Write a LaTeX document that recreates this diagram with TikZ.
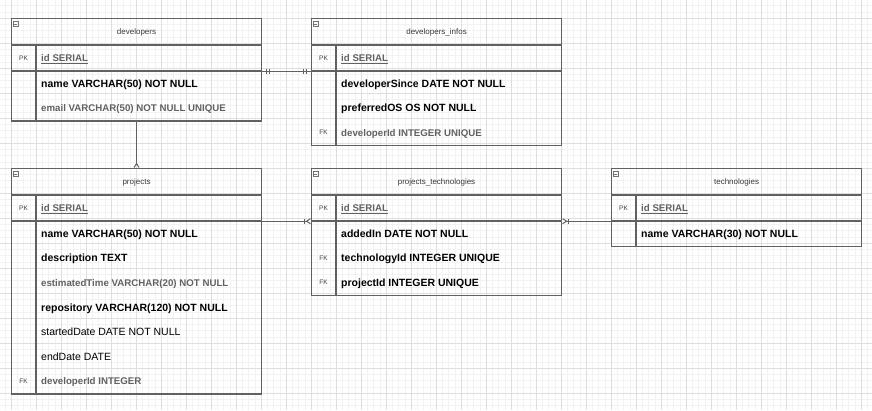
\documentclass[tikz,border=0pt]{standalone}
\usepackage{fontspec}
\setmainfont{Liberation Sans}
\usetikzlibrary{positioning,arrows.meta}

\begin{document}
\begin{tikzpicture}[x=1pt, y=-1pt,
    gridminor/.style={draw=black!5, line width=0.4pt},
    gridmajor/.style={draw=black!13, line width=0.6pt},
    tablehead/.style={draw=black!62, line width=1.1pt, minimum width=250pt, minimum height=26pt,
        inner sep=0pt, anchor=north west, font=\fontsize{8}{9}\selectfont, text=black!78,
        text height=7.2pt, text depth=1.5pt},
    pkrow/.style={draw=black!62, line width=1.1pt, minimum width=250pt, minimum height=25pt,
        inner sep=0pt, anchor=north west},
    tablebody/.style={draw=black!62, line width=1.1pt, minimum width=250pt, inner sep=0pt,
        anchor=north west},
    colline/.style={draw=black!62, line width=1.1pt},
    minbox/.style={draw=black!55, line width=0.5pt, minimum size=5pt, inner sep=0pt,
        path picture={\draw[black!55, line width=0.5pt] ([xshift=1pt]path picture bounding box.west)
            -- ([xshift=-1pt]path picture bounding box.east);}},
    keylbl/.style={font=\fontsize{6.5}{7}\selectfont, text=black!75, inner sep=0pt, anchor=center},
    field/.style={anchor=west, inner sep=0pt, text height=9.5pt, text depth=2pt},
    fbold/.style={field, font=\fontsize{10.5}{12}\selectfont\bfseries, text=black},
    fplain/.style={field, font=\fontsize{10.5}{12}\selectfont, text=black},
    fgray/.style={field, font=\fontsize{9.7}{11}\selectfont\bfseries, text=black!62},
    link/.style={draw=black!62, line width=1pt},
]

\useasboundingbox (0,0) rectangle (872,410);
\fill[white] (0,0) rectangle (872,410);

% Raster im Hintergrund
\foreach \k in {-1,...,137} {
    \draw[gridminor] ({11+6.25*\k},0) -- ({11+6.25*\k},410);
}
\foreach \k in {-2,...,62} {
    \draw[gridminor] (0,{18+6.25*\k}) -- (872,{18+6.25*\k});
}
\foreach \k in {0,...,34} {
    \draw[gridmajor] ({11+25*\k},0) -- ({11+25*\k},410);
}
\foreach \k in {0,...,15} {
    \draw[gridmajor] (0,{18+25*\k}) -- (872,{18+25*\k});
}

% Tabelle developers
\node[tablehead] (devhead) at (11,18) {developers};
\node[minbox] (devmin) at ([xshift=4.7pt, yshift=-6pt]devhead.north west) {};
\node[pkrow] (devpk) at (devhead.south west) {};
\node[tablebody, minimum height=49.2pt] (devbody) at (devpk.south west) {};
\draw[colline] ([xshift=25pt]devpk.north west) -- ([xshift=25pt]devbody.south west);
\node[keylbl] (devpkl) at ([xshift=12.5pt]devpk.west) {PK};
\node[fgray] (devid) at ([xshift=30pt]devpk.west) {\underline{id SERIAL}};
\foreach \st/\txt [count=\i] in {fbold/name VARCHAR(50) NOT NULL,
                                 fgray/email VARCHAR(50) NOT NULL UNIQUE}
    \node[\st] (dev-\i) at ([xshift=30pt, yshift={-12.3pt-24.6pt*(\i-1)}]devbody.north west) {\txt};

% Tabelle developers_infos
\node[tablehead, right=48.9pt of devhead] (infohead) {developers\_infos};
\node[minbox] (infomin) at ([xshift=4.7pt, yshift=-6pt]infohead.north west) {};
\node[pkrow] (infopk) at (infohead.south west) {};
\node[tablebody, minimum height=73.8pt] (infobody) at (infopk.south west) {};
\draw[colline] ([xshift=25pt]infopk.north west) -- ([xshift=25pt]infobody.south west);
\node[keylbl] (infopkl) at ([xshift=12.5pt]infopk.west) {PK};
\node[fgray] (infoid) at ([xshift=30pt]infopk.west) {\underline{id SERIAL}};
\foreach \st/\txt [count=\i] in {fbold/developerSince DATE NOT NULL,
                                 fbold/preferredOS OS NOT NULL,
                                 fgray/developerId INTEGER UNIQUE}
    \node[\st] (info-\i) at ([xshift=30pt, yshift={-12.3pt-24.6pt*(\i-1)}]infobody.north west) {\txt};
\node[keylbl] (infofk) at ([xshift=-17.5pt]info-3.west) {FK};

% Tabelle projects
\node[tablehead] (projhead) at (11,168) {projects};
\node[minbox] (projmin) at ([xshift=4.7pt, yshift=-6pt]projhead.north west) {};
\node[pkrow] (projpk) at (projhead.south west) {};
\node[tablebody, minimum height=172.2pt] (projbody) at (projpk.south west) {};
\draw[colline] ([xshift=25pt]projpk.north west) -- ([xshift=25pt]projbody.south west);
\node[keylbl] (projpkl) at ([xshift=12.5pt]projpk.west) {PK};
\node[fgray] (projid) at ([xshift=30pt]projpk.west) {\underline{id SERIAL}};
\foreach \st/\txt [count=\i] in {fbold/name VARCHAR(50) NOT NULL,
                                 fbold/description TEXT,
                                 fgray/estimatedTime VARCHAR(20) NOT NULL,
                                 fbold/repository VARCHAR(120) NOT NULL,
                                 fplain/startedDate DATE NOT NULL,
                                 fplain/endDate DATE,
                                 fgray/developerId INTEGER}
    \node[\st] (proj-\i) at ([xshift=30pt, yshift={-12.3pt-24.6pt*(\i-1)}]projbody.north west) {\txt};
\node[keylbl] (projfk) at ([xshift=-17.5pt]proj-7.west) {FK};

% Tabelle projects_technologies
\node[tablehead, right=48.9pt of projhead] (pthead) {projects\_technologies};
\node[minbox] (ptmin) at ([xshift=4.7pt, yshift=-6pt]pthead.north west) {};
\node[pkrow] (ptpk) at (pthead.south west) {};
\node[tablebody, minimum height=73.8pt] (ptbody) at (ptpk.south west) {};
\draw[colline] ([xshift=25pt]ptpk.north west) -- ([xshift=25pt]ptbody.south west);
\node[keylbl] (ptpkl) at ([xshift=12.5pt]ptpk.west) {PK};
\node[fgray] (ptid) at ([xshift=30pt]ptpk.west) {\underline{id SERIAL}};
\foreach \st/\txt [count=\i] in {fbold/addedIn DATE NOT NULL,
                                 fbold/technologyId INTEGER UNIQUE,
                                 fbold/projectId INTEGER UNIQUE}
    \node[\st] (pt-\i) at ([xshift=30pt, yshift={-12.3pt-24.6pt*(\i-1)}]ptbody.north west) {\txt};
\node[keylbl] (ptfk1) at ([xshift=-17.5pt]pt-2.west) {FK};
\node[keylbl] (ptfk2) at ([xshift=-17.5pt]pt-3.west) {FK};

% Tabelle technologies
\node[tablehead, right=48.9pt of pthead] (techhead) {technologies};
\node[minbox] (techmin) at ([xshift=4.7pt, yshift=-6pt]techhead.north west) {};
\node[pkrow] (techpk) at (techhead.south west) {};
\node[tablebody, minimum height=24.6pt] (techbody) at (techpk.south west) {};
\draw[colline] ([xshift=25pt]techpk.north west) -- ([xshift=25pt]techbody.south west);
\node[keylbl] (techpkl) at ([xshift=12.5pt]techpk.west) {PK};
\node[fgray] (techid) at ([xshift=30pt]techpk.west) {\underline{id SERIAL}};
\node[fbold] (tech-1) at ([xshift=30pt, yshift=-12.3pt]techbody.north west) {name VARCHAR(30) NOT NULL};

% Beziehungen
\draw[link] (devpk.south east) -- (infopk.south west);
\draw[link, shorten <=2pt, shorten >=2pt,
      {Bar[width=5pt,sep=2pt]Bar[width=5pt,sep=2pt]}-{Bar[width=5pt,sep=2pt]Bar[width=5pt,sep=2pt]}]
    (devpk.south east) -- (infopk.south west);
\draw[link, -{Straight Barb[reversed,length=4pt,width=5pt]}] (devbody.south) -- (projhead.north);
\draw[link, -{Bar[width=5pt,sep=0.5pt]Straight Barb[reversed,length=4pt,width=5pt]}]
    (projpk.south east) -- (ptpk.south west);
\draw[link, {Straight Barb[reversed,length=4pt,width=5pt]Bar[width=5pt,sep=0.5pt]}-]
    (ptpk.south east) -- (techpk.south west);

\end{tikzpicture}
\end{document}
